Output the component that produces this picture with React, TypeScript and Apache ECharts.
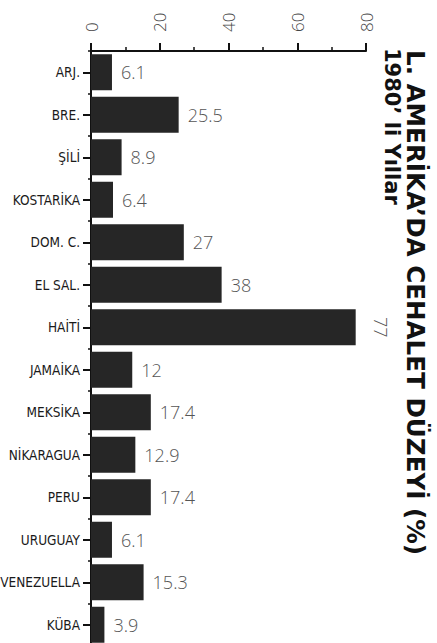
import React, { useEffect, useRef } from "react";
import * as echarts from "echarts";

const categories = [
  "ARJ.",
  "BRE.",
  "ŞİLİ",
  "KOSTARİKA",
  "DOM. C.",
  "EL SAL.",
  "HAİTİ",
  "JAMAİKA",
  "MEKSİKA",
  "NİKARAGUA",
  "PERU",
  "URUGUAY",
  "VENEZUELLA",
  "KÜBA",
];
const values = [6.1, 25.5, 8.9, 6.4, 27, 38, 77, 12, 17.4, 12.9, 17.4, 6.1, 15.3, 3.9];
const rotatedLabelCategories = ["HAİTİ"];
const axisMin = 0;
const axisMax = 80;
const axisInterval = 20;
const titleLine1 = "L. AMERİKA’DA CEHALET DÜZEYİ (%)";
const titleLine2 = "1980’ li Yıllar";

const lightFont = "'Open Sans', 'Lato', sans-serif";
const narrowFont = "'Liberation Sans Narrow', 'DejaVu Sans Condensed', sans-serif";

export default function App() {
  const ref = useRef<HTMLDivElement>(null);
  useEffect(() => {
    if (!ref.current) return;
    const chart = echarts.init(ref.current, null, { renderer: "svg" });
    const data = values.map((v, i) =>
      rotatedLabelCategories.includes(categories[i])
        ? {
            value: v,
            label: {
              rotate: -90,
              align: "center",
              verticalAlign: "bottom",
              distance: 16,
            },
          }
        : v
    );
    chart.setOption({
      animation: false,
      backgroundColor: "#ffffff",
      grid: {
        left: 91,
        top: 51,
        width: 275,
        height: 595,
        containLabel: false,
        outerBoundsMode: "none",
      },
      xAxis: {
        type: "value",
        position: "top",
        min: axisMin,
        max: axisMax,
        interval: axisInterval,
        axisLine: { show: true, lineStyle: { color: "#111", width: 2 } },
        axisTick: { show: true, length: 8, lineStyle: { color: "#111", width: 2 } },
        minorTick: { show: true, splitNumber: 2, length: 4, lineStyle: { color: "#111", width: 1.5 } },
        splitLine: { show: false },
        minorSplitLine: { show: false },
        axisLabel: {
          rotate: -90,
          margin: 19,
          fontSize: 17,
          color: "#444",
          fontFamily: lightFont,
          fontWeight: 300,
        },
      },
      yAxis: [
        {
          type: "category",
          inverse: true,
          data: categories,
          axisLine: { show: true, lineStyle: { color: "#111", width: 2 } },
          axisTick: { show: true, alignWithLabel: true, length: 8, lineStyle: { color: "#111", width: 2 } },
          axisLabel: { margin: 11, fontSize: 13.5, color: "#1a1a1a", fontFamily: narrowFont },
        },
        {
          type: "category",
          inverse: true,
          data: categories,
          position: "left",
          axisLine: { show: false },
          axisTick: { show: true, alignWithLabel: false, length: 3, lineStyle: { color: "#111", width: 1.5 } },
          axisLabel: { show: false },
        },
      ],
      series: [
        {
          type: "bar",
          yAxisIndex: 0,
          data,
          barWidth: 36,
          itemStyle: { color: "#262626" },
          label: {
            show: true,
            position: "right",
            distance: 9,
            fontSize: 18,
            color: "#555",
            fontFamily: lightFont,
            fontWeight: 300,
          },
        },
      ],
      graphic: [
        {
          type: "text",
          x: 415,
          y: 50,
          rotation: -Math.PI / 2,
          style: {
            text: titleLine1,
            fontSize: 24.6,
            fontWeight: "bold",
            fontFamily: "'DejaVu Sans', sans-serif",
            fill: "#111",
            align: "left",
            verticalAlign: "middle",
          },
        },
        {
          type: "text",
          x: 392,
          y: 48,
          rotation: -Math.PI / 2,
          style: {
            text: titleLine2,
            fontSize: 21,
            fontWeight: "bold",
            fontFamily: "'DejaVu Sans', sans-serif",
            fill: "#111",
            align: "left",
            verticalAlign: "middle",
          },
        },
      ],
    });
    return () => chart.dispose();
  }, []);
  return (
    <div
      ref={ref}
      style={{ position: "fixed", left: 0, top: 0, width: 437, height: 643 }}
    />
  );
}
